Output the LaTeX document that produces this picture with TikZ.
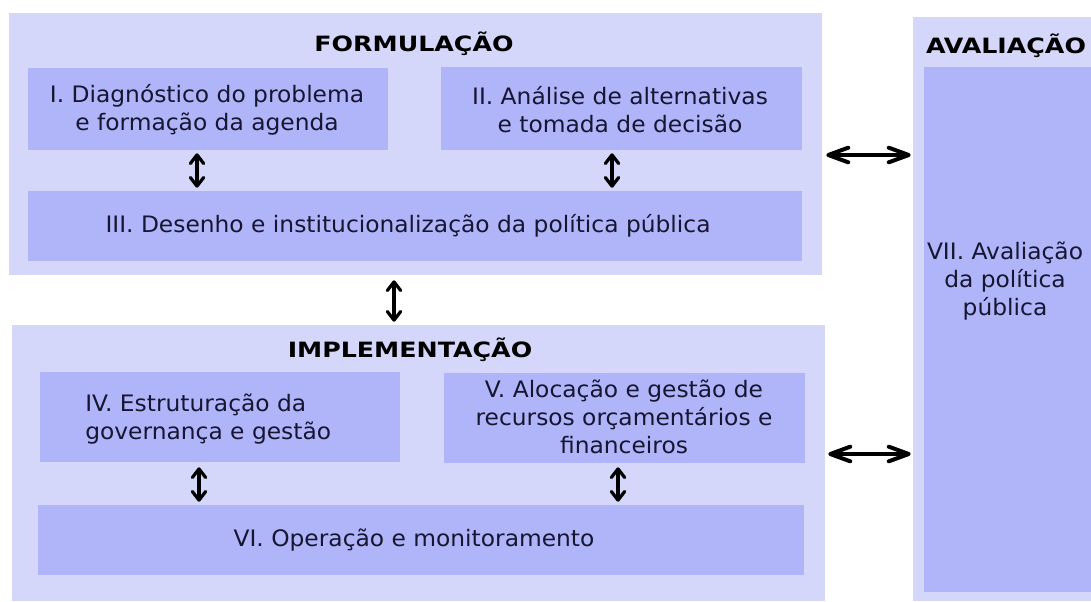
\documentclass[tikz,border=0pt]{standalone}
\usepackage{fontspec}
\setmainfont{DejaVu Sans}[FakeStretch=1.03]
\newfontfamily\ttlfont{DejaVu Sans Bold}[FakeStretch=1.2]
\usetikzlibrary{arrows.meta,fit}
\definecolor{outerc}{RGB}{212,214,250}
\definecolor{innerc}{RGB}{176,180,248}
\definecolor{txt}{RGB}{22,22,50}
\begin{document}
\begin{tikzpicture}[x=0.75pt,y=-0.75pt,
  outerbox/.style={fill=outerc, inner sep=0pt, draw=none},
  innerbox/.style={fill=innerc, inner sep=0pt, draw=none},
  body/.style={text=txt, font=\fontsize{17}{21}\selectfont, align=center, inner sep=0pt},
  ttl/.style={font=\ttlfont\fontsize{15.8}{18}\selectfont, text=black, inner sep=0pt},
  varr/.style={line width=2.4pt, {Straight Barb[length=6.5pt,width=10pt,round]}-{Straight Barb[length=6.5pt,width=10pt,round]}},
  harr/.style={line width=3pt, {Straight Barb[length=15pt,width=11pt,round]}-{Straight Barb[length=15pt,width=11pt,round]}}]
\useasboundingbox (0,0) rectangle (1091,601);
\fill[white] (0,0) rectangle (1091,601);
% outer boxes
\node[outerbox, fit={(9,13)(822,275)}] (F) {};
\node[outerbox, fit={(12,325)(825,601)}] (IM) {};
\node[outerbox, fit={(913,17)(1091,601)}] (AV) {};
% inner boxes
\node[innerbox, fit={(28,68)(388,150)}] (I) {};
\node[innerbox, fit={(441,67)(802,150)}] (II) {};
\node[innerbox, fit={(28,191)(802,261)}] (III) {};
\node[innerbox, fit={(40,372)(400,462)}] (IV) {};
\node[innerbox, fit={(444,373)(805,463)}] (V) {};
\node[innerbox, fit={(38,505)(804,575)}] (VI) {};
\node[innerbox, fit={(924,67)(1091,592)}] (VII) {};
% titles
\node[ttl] (tF) at (414,44) {FORMULAÇÃO};
\node[ttl] (tIM) at (410,350) {IMPLEMENTAÇÃO};
\node[ttl] (tAV) at (1006,46) {AVALIAÇÃO};
% texts
\node[body] (tI) at (207,110) {I. Diagnóstico do problema\\e formação da agenda};
\node[body] (tII) at (620,110) {II. Análise de alternativas\\e tomada de decisão};
\node[body] (tIII) at (408,226) {III. Desenho e institucionalização da política pública};
\node[body, align=left, anchor=west] (tIV) at (85,419) {IV. Estruturação da\\governança e gestão};
\node[body] (tV) at (624,417) {V. Alocação e gestão de\\recursos orçamentários e\\financeiros};
\node[body] (tVI) at (414,540) {VI. Operação e monitoramento};
\node[body] (tVII) at (1005,281) {VII. Avaliação\\da política\\pública};
% arrow positions
\coordinate (a1) at (197,0);
\coordinate (a2) at (612,0);
\coordinate (a3) at (394,0);
\coordinate (a4) at (199,0);
\coordinate (a5) at (618,0);
\coordinate (h1) at (0,155);
\coordinate (h2) at (0,454);
% connectors
\draw[varr, shorten <=2.25pt, shorten >=2.25pt] (I.south -| a1) -- (III.north -| a1);
\draw[varr, shorten <=2.25pt, shorten >=2.25pt] (II.south -| a2) -- (III.north -| a2);
\draw[varr, shorten <=3.75pt, shorten >=2.25pt] (F.south -| a3) -- (IM.north -| a3);
\draw[varr, shorten <=3.75pt, shorten >=2.25pt] (IV.south -| a4) -- (VI.north -| a4);
\draw[varr, shorten <=3pt, shorten >=2.25pt] (V.south -| a5) -- (VI.north -| a5);
\draw[harr, shorten <=3pt, shorten >=1.5pt] (F.east |- h1) -- (AV.west |- h1);
\draw[harr, shorten <=2.25pt, shorten >=1.5pt] (IM.east |- h2) -- (AV.west |- h2);
\end{tikzpicture}
\end{document}
